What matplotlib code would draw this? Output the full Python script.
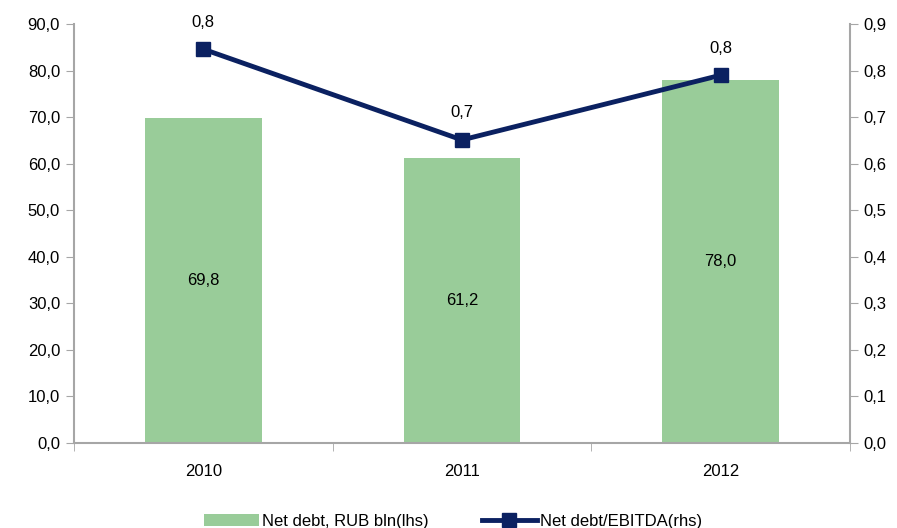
import matplotlib.pyplot as plt
from matplotlib import ticker

plt.rcParams["font.family"] = ["Liberation Sans", "DejaVu Sans"]
fs = 12

years = ["2010", "2011", "2012"]
net_debt = [69.8, 61.2, 78.0]
debt_to_ebitda = [0.846, 0.651, 0.790]

bar_color = "#99CC99"
line_color = "#0B2161"
axis_color = "#A6A6A6"

fig = plt.figure(figsize=(8.97, 5.28), dpi=100)
ax1 = fig.add_axes([0.0825, 0.161, 0.865, 0.7935])
ax2 = ax1.twinx()

x = list(range(len(years)))
bars = ax1.bar(x, net_debt, width=0.45, color=bar_color, label="Net debt, RUB bln(lhs)", zorder=2)
for xi, v in zip(x, net_debt):
    ax1.text(xi, v / 2, f"{v:.1f}".replace(".", ","), ha="center", va="center", fontsize=fs)

ax1.set_xlim(-0.5, 2.5)
ax1.set_ylim(0, 90)
ax1.set_yticks([i * 10 for i in range(10)])
ax1.yaxis.set_major_formatter(ticker.FuncFormatter(lambda v, _: f"{v:.1f}".replace(".", ",")))
ax1.set_xticks(x)
ax1.set_xticklabels(years)
ax1.set_xticks([-0.5, 0.5, 1.5, 2.5], minor=True)
ax1.tick_params(axis="x", which="major", length=0, pad=15, labelsize=fs)
ax1.tick_params(axis="x", which="minor", length=6, color=axis_color, direction="out")
ax1.tick_params(axis="y", length=6, color=axis_color, labelsize=fs, pad=4)

ax2.plot(x, debt_to_ebitda, color=line_color, linewidth=3.5, marker="s", markersize=10,
         label="Net debt/EBITDA(rhs)", zorder=3)
for xi, v in zip(x, debt_to_ebitda):
    ax2.annotate(f"{v:.1f}".replace(".", ","), (xi, v), xytext=(0, 14), textcoords="offset points",
                 ha="center", va="bottom", fontsize=fs)
ax2.set_ylim(0, 0.9)
ax2.set_yticks([i / 10 for i in range(10)])
ax2.yaxis.set_major_formatter(ticker.FuncFormatter(lambda v, _: f"{v:.1f}".replace(".", ",")))
ax2.tick_params(axis="y", length=6, color=axis_color, labelsize=fs, pad=4)

for ax in (ax1, ax2):
    ax.spines["top"].set_visible(False)
    for side in ("left", "right", "bottom"):
        ax.spines[side].set_color(axis_color)
        ax.spines[side].set_linewidth(1.5)
ax1.spines["right"].set_visible(False)
ax2.spines["left"].set_visible(False)
ax2.spines["bottom"].set_visible(False)

handles = [bars, ax2.get_lines()[0]]
fig.legend(handles, [h.get_label() for h in handles], loc="lower center", ncol=2,
           bbox_to_anchor=(0.505, -0.03), frameon=False, fontsize=fs, handlelength=3.3,
           columnspacing=3.2, handletextpad=0.2)

fig.savefig("out.png", dpi=100)
